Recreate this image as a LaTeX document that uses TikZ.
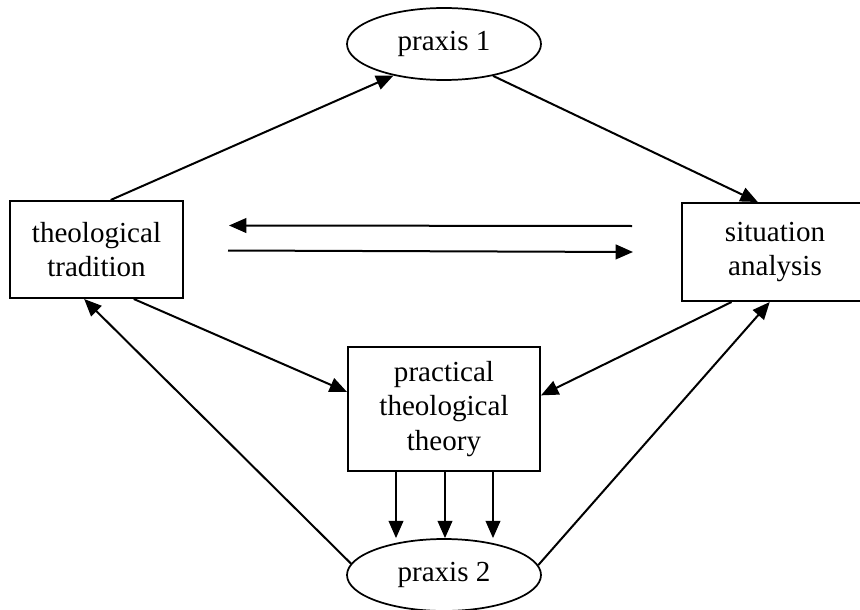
\documentclass[tikz,border=0pt]{standalone}
\usepackage{fontspec}
\setmainfont{Liberation Serif}
\usetikzlibrary{arrows.meta,shapes.geometric,calc}

\tikzset{
  lbl/.style={font=\fontsize{21.8}{26}\selectfont, align=center, inner sep=0pt},
  boxnode/.style={lbl, draw, line width=1.5pt, rectangle},
  ovalnode/.style={lbl, draw, line width=1.3pt, ellipse},
  link/.style={line width=1.5pt, -{Triangle[length=13pt,width=11pt]}}
}

\begin{document}
\begin{tikzpicture}[x=0.75pt,y=0.75pt,yscale=-1,xscale=1]
\useasboundingbox (0,0) rectangle (860,610);
%Shape: Ellipse [praxis 1]
\node [ovalnode, minimum width=145.5pt, minimum height=54pt] (praxA) at (444,44) {praxis 1};
%Shape: Rectangle [theological tradition]
\node [boxnode, minimum width=129.75pt, minimum height=72.75pt] (trad) at (96.5,249.5) {theological\\tradition};
%Shape: Rectangle [situation analysis]
\node [boxnode, minimum width=139.5pt, minimum height=73.5pt] (sit) at (775,252) {situation\\analysis};
%Shape: Rectangle [practical theological theory]
\node [boxnode, minimum width=144pt, minimum height=93pt] (prac) at (444,409) {practical\\theological\\theory};
%Shape: Ellipse [praxis 2]
\node [ovalnode, minimum width=145.5pt, minimum height=54pt] (praxB) at (444,575) {praxis 2};
%Straight Lines
\draw [link] (trad.74) -- (praxA.212);
\draw [link] (praxA.327) -- (sit.109);
\draw [link] (trad.307) -- (prac.170);
\draw [link] (sit.229) -- (prac.8);
\draw [link] (praxB.173) -- (trad.256);
\draw [link] (praxB.6) -- (sit.264);
%Straight Lines [between tradition and analysis]
\draw [link] ($(sit.west)+(-49,-26)$) -- ($(trad.east)+(45,-24)$);
\draw [link] ($(trad.east)+(44,1)$) -- ($(sit.west)+(-48,0)$);
%Straight Lines [theory to praxis 2]
\draw [link] ([xshift=-36pt]prac.south) -- ([xshift=-36pt]praxB.north);
\draw [link] ([xshift=0.75pt]prac.south) -- ([xshift=0.75pt]praxB.north);
\draw [link] ([xshift=36.75pt]prac.south) -- ([xshift=36.75pt]praxB.north);
\end{tikzpicture}
\end{document}
